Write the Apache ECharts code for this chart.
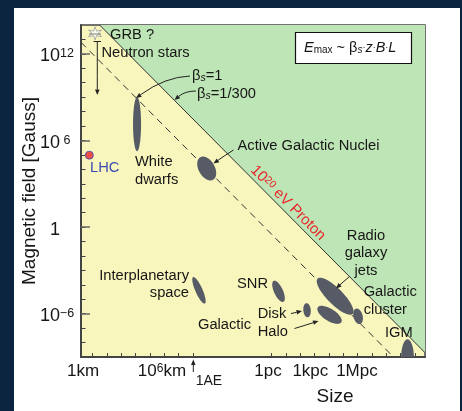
<!DOCTYPE html>
<html><head><meta charset="utf-8">
<script src="https://cdn.jsdelivr.net/npm/echarts@6/dist/echarts.min.js"></script>
<style>
html,body{margin:0;padding:0;background:#0b2541;width:462px;height:411px;overflow:hidden}
#panel{position:absolute;left:14px;top:8px;width:446px;height:403px;background:#fff}
#chart{position:absolute;left:0;top:0;width:462px;height:411px}
</style></head><body><div id="panel"></div><div id="chart"></div>
<script>
// x = log10(size / km), y = log10(B / Gauss)
const xRange = [0.2, 24.2];
const yRange = [-9, 14];
const xMinorTicks = [1, 2, 3, 4, 5, 6, 7, 8, 13.49, 14.49, 15.49, 16.49, 17.49, 18.49, 19.49, 20.49, 21.49, 22.49, 23.49];
const xLabelValues = [0.35, 5.85, 13.25, 16.2, 19.45];
const xLabelTexts = ['{b|1km}', '{b|10}{sup|6}{b|km}', '{b|1pc}', '{b|1kpc}', '{b|1Mpc}'];
const yMinorTicks = [-8, -7, -6, -5, -4, -3, -2, -1, 0, 1, 2, 3, 4, 5, 6, 7, 8, 9, 10, 11, 12, 13];
const yMajorTicks = [12, 6, 0, -6];

const regionNames = ['White dwarfs', 'Active Galactic Nuclei', 'Interplanetary space', 'SNR', 'Disk', 'Halo', 'Radio galaxy jets', 'Galactic cluster', 'IGM'];
const regionLogSize = [4.11, 8.97, 8.43, 13.98, 15.97, 17.54, 17.93, 19.53, 22.98];
const regionLogField = [7.13, 4.06, -4.38, -4.45, -5.76, -6.08, -4.79, -6.18, -9.09];
const regionSemiMajor = [1.87, 0.9, 1.0, 0.8, 0.49, 0.97, 1.73, 0.55, 1.32];
const regionSemiMinor = [0.28, 0.56, 0.25, 0.31, 0.26, 0.42, 0.55, 0.32, 0.45];
const regionAngle = [90, -60, -66, -65, -85, -32, -45, -75, 90];

const betaOneLine = [[1.5, 14], [24.2, -8.7]];
const beta300Line = [[0.2, 12.8], [22.0, -9]];
const lhcPoint = [0.78, 4.98];
const grbPoint = [1.18, 13.42];

const FONT = 'Liberation Sans, Arial, Helvetica, sans-serif';
const TXT = '#161616';

const ellipseData = regionNames.map((n, i) => ({
  name: n,
  value: [regionLogSize[i], regionLogField[i], regionSemiMajor[i], regionSemiMinor[i], regionAngle[i]]
}));
const greenRegion = [betaOneLine[0], [xRange[1], yRange[1]], betaOneLine[1]];

function starPath() {
  let d = '';
  for (let k = 0; k < 12; k++) {
    const r = k % 2 === 0 ? 10 : 4;
    const a = -Math.PI / 2 + k * Math.PI / 6;
    d += (k === 0 ? 'M' : 'L') + (10 + r * Math.cos(a)).toFixed(2) + ' ' + (10 + r * Math.sin(a)).toFixed(2);
  }
  return 'path://' + d + 'Z';
}

function arrow(x1, y1, cx, cy, x2, y2) {
  const ang = Math.atan2(y2 - cy, x2 - cx);
  const L = 5.5, W = 2.3;
  const bx = x2 - L * Math.cos(ang), by = y2 - L * Math.sin(ang);
  return [
    { type: 'bezierCurve', silent: true, shape: { x1, y1, x2: bx, y2: by, cpx1: cx, cpy1: cy }, style: { stroke: '#222', lineWidth: 1, fill: null } },
    { type: 'polygon', silent: true, shape: { points: [[x2, y2], [bx - W * Math.sin(ang), by + W * Math.cos(ang)], [bx + W * Math.sin(ang), by - W * Math.cos(ang)]] }, style: { fill: '#222' } }
  ];
}
function txt(x, y, text, opts) {
  return Object.assign({ type: 'text', x, y, silent: true, style: Object.assign({ text, fill: TXT, fontSize: 14.7, fontFamily: FONT, align: 'left', verticalAlign: 'middle' }, opts || {}) });
}

const graphics = [].concat(
  [{ type: 'line', silent: true, shape: { x1: 89, y1: 34, x2: 101, y2: 34 }, style: { stroke: '#777', lineWidth: 1 } }],
  [{ type: 'line', silent: true, shape: { x1: 93.5, y1: 41.5, x2: 101, y2: 41.5 }, style: { stroke: '#222', lineWidth: 1 } }],
  arrow(97.3, 41.5, 97.3, 60, 97.3, 95),
  arrow(190, 76, 165, 77, 136, 98),
  arrow(196, 91, 185, 91, 174.5, 100),
  arrow(233.5, 150, 224, 156, 213.5, 163.5),
  arrow(349.5, 276.5, 343, 282, 336, 288.5),
  arrow(291, 313.5, 296, 312.5, 302, 311),
  arrow(294.5, 328.5, 306, 325, 318.5, 321),
  arrow(193.3, 372, 193.3, 366, 193.3, 359.5),
  [
    txt(110, 35, 'GRB ?'),
    txt(101.5, 52.5, 'Neutron stars'),
    txt(192, 76, '{g|β}{s|s}{n|=1}', { rich: { g: { fontSize: 14.7, fontFamily: FONT, fill: TXT }, s: { fontSize: 10.5, fontStyle: 'italic', fontFamily: FONT, fill: TXT, verticalAlign: 'bottom' }, n: { fontSize: 14.7, fontFamily: FONT, fill: TXT } } }),
    txt(197, 94, '{g|β}{s|s}{n|=1/300}', { rich: { g: { fontSize: 14.7, fontFamily: FONT, fill: TXT }, s: { fontSize: 10.5, fontStyle: 'italic', fontFamily: FONT, fill: TXT, verticalAlign: 'bottom' }, n: { fontSize: 14.7, fontFamily: FONT, fill: TXT } } }),
    txt(237.5, 146, 'Active Galactic Nuclei'),
    txt(135, 171, 'White\ndwarfs', { lineHeight: 18 }),
    txt(90, 168, 'LHC', { fill: '#3c4db3' }),
    txt(366, 253, 'Radio\ngalaxy\njets', { align: 'center', lineHeight: 17.5 }),
    txt(363.7, 301, 'Galactic\ncluster', { lineHeight: 18 }),
    txt(385, 333, 'IGM'),
    txt(237, 284, 'SNR'),
    txt(257.7, 314, 'Disk'),
    txt(257.7, 331.7, 'Halo'),
    txt(198, 325, 'Galactic'),
    txt(189, 284.5, 'Interplanetary\nspace', { align: 'right', lineHeight: 17.5 }),
    txt(195.7, 381, '1AE', { fontSize: 14 }),
    { type: 'text', x: 288, y: 203, rotation: -Math.PI / 4, silent: true,
      style: { text: '{n|10}{sup|20}{n| eV Proton}', align: 'center', verticalAlign: 'middle', fontFamily: FONT,
        rich: { n: { fontSize: 15, fill: '#e8262a', fontFamily: FONT }, sup: { fontSize: 10.5, fill: '#e8262a', fontFamily: FONT, verticalAlign: 'top' } } } },
    { type: 'rect', silent: true, shape: { x: 295.5, y: 32.5, width: 116, height: 31 }, style: { fill: '#fff', stroke: '#111', lineWidth: 1.2 } },
    txt(304, 48, '{i|E}{sub|max}{n| ~ β}{si|s}{d|·}{i|z}{d|·}{i|B}{d|·}{i|L}', { rich: {
      i: { fontSize: 14.5, fontStyle: 'italic', fontFamily: FONT, fill: TXT },
      d: { fontSize: 9, fontFamily: FONT, fill: TXT },
      sub: { fontSize: 10, fontFamily: FONT, fill: TXT, verticalAlign: 'bottom' },
      n: { fontSize: 14.5, fontFamily: FONT, fill: TXT },
      si: { fontSize: 10, fontStyle: 'italic', fontFamily: FONT, fill: TXT, verticalAlign: 'bottom' } } })
  ]
);

const chart = echarts.init(document.getElementById('chart'), null, { renderer: 'canvas' });
const tickColor = '#444';
chart.setOption({
  animation: false,
  backgroundColor: 'transparent',
  textStyle: { fontFamily: FONT },
  grid: { left: 81, top: 25, right: 37, bottom: 54, show: true, backgroundColor: '#f8f6bd', borderColor: '#444', borderWidth: 1.5 },
  xAxis: {
    type: 'value', min: xRange[0], max: xRange[1], position: 'bottom',
    name: 'Size', nameLocation: 'middle', nameGap: 30, nameMoveOverlap: false,
    nameTextStyle: { fontSize: 19, color: TXT, padding: [0, 0, 0, 164] },
    axisLine: { show: true, onZero: false, lineStyle: { color: '#444', width: 2 } },
    axisTick: { show: true, inside: true, length: 4, customValues: xMinorTicks, lineStyle: { color: tickColor, width: 1 } },
    axisLabel: {
      show: true, customValues: xLabelValues, margin: 6, color: TXT,
      formatter: v => { const i = xLabelValues.findIndex(t => Math.abs(t - v) < 1e-6); return i >= 0 ? xLabelTexts[i] : ''; },
      rich: { b: { fontSize: 17, color: TXT, fontFamily: FONT }, sup: { fontSize: 12, color: TXT, fontFamily: FONT, verticalAlign: 'top' } }
    },
    splitLine: { show: false }
  },
  yAxis: [
    {
      type: 'value', min: yRange[0], max: yRange[1], position: 'left',
      name: 'Magnetic field [Gauss]', nameLocation: 'middle', nameGap: 42, nameMoveOverlap: false,
      nameTextStyle: { fontSize: 19, color: TXT },
      axisLine: { show: true, onZero: false, lineStyle: { color: '#444', width: 2 } },
      axisTick: { show: true, inside: true, length: 4.5, customValues: yMinorTicks, lineStyle: { color: tickColor, width: 1 } },
      axisLabel: {
        show: true, customValues: yMajorTicks, margin: 7, padding: [5, 0, 0, 0],
        formatter: v => v === 0 ? '{b|1}{p|}' : '{b|10}{sup|' + (v < 0 ? '\u2212' + (-v) : v) + '}',
        rich: { b: { fontSize: 18, color: TXT, fontFamily: FONT }, sup: { fontSize: 12.5, color: TXT, fontFamily: FONT, verticalAlign: 'top', width: 14, align: 'left' }, p: { width: 14 } }
      },
      splitLine: { show: false }
    },
    {
      type: 'value', min: yRange[0], max: yRange[1], position: 'left',
      axisLine: { show: false, onZero: false }, axisLabel: { show: false }, splitLine: { show: false },
      axisTick: { show: true, inside: true, length: 9, customValues: yMajorTicks, lineStyle: { color: '#666', width: 1.5 } }
    },
    {
      type: 'value', min: yRange[0], max: yRange[1], position: 'right',
      axisLine: { show: false, onZero: false }, axisLabel: { show: false }, splitLine: { show: false },
      axisTick: { show: true, inside: true, length: 4.5, customValues: yMinorTicks, lineStyle: { color: tickColor, width: 1 } }
    },
    {
      type: 'value', min: yRange[0], max: yRange[1], position: 'right',
      axisLine: { show: false, onZero: false }, axisLabel: { show: false }, splitLine: { show: false },
      axisTick: { show: true, inside: true, length: 9, customValues: yMajorTicks, lineStyle: { color: '#666', width: 1.5 } }
    }
  ],
  series: [
    {
      type: 'custom', name: 'acceleration possible', clip: true, silent: true, z: 1,
      data: [0],
      renderItem: (params, api) => ({
        type: 'polygon',
        shape: { points: greenRegion.map(p => api.coord(p)) },
        style: { fill: '#bee5b6' }
      })
    },
    { type: 'line', name: 'beta=1', data: betaOneLine, showSymbol: false, silent: true, z: 2,
      lineStyle: { color: '#333', width: 1 } },
    { type: 'line', name: 'beta=1/300', data: beta300Line, showSymbol: false, silent: true, z: 2,
      lineStyle: { color: '#333', width: 1, type: [7, 5] } },
    {
      type: 'custom', name: 'sources', clip: true, silent: true, z: 3,
      data: ellipseData,
      encode: { x: 0, y: 1 },
      renderItem: (params, api) => {
        const cx = api.value(0), cy = api.value(1), a = api.value(2), b = api.value(3), ang = api.value(4) * Math.PI / 180;
        const pts = [];
        for (let k = 0; k < 72; k++) {
          const t = k / 72 * Math.PI * 2;
          const x = cx + a * Math.cos(t) * Math.cos(ang) - b * Math.sin(t) * Math.sin(ang);
          const y = cy + a * Math.cos(t) * Math.sin(ang) + b * Math.sin(t) * Math.cos(ang);
          pts.push(api.coord([x, y]));
        }
        return { type: 'polygon', shape: { points: pts }, style: { fill: '#575b66' } };
      }
    },
    { type: 'scatter', name: 'LHC', data: [lhcPoint], symbolSize: 8, silent: true, z: 4,
      itemStyle: { color: '#e8232b', borderColor: '#3c4db3', borderWidth: 1 } },
    { type: 'scatter', name: 'GRB', data: [grbPoint], symbol: starPath(), symbolSize: 13, silent: true, z: 4,
      itemStyle: { color: '#ffffff', borderColor: '#9a9a9a', borderWidth: 1 } }
  ],
  graphic: { elements: graphics.map(g => Object.assign({ z: 100 }, g)) }
});
</script></body></html>
